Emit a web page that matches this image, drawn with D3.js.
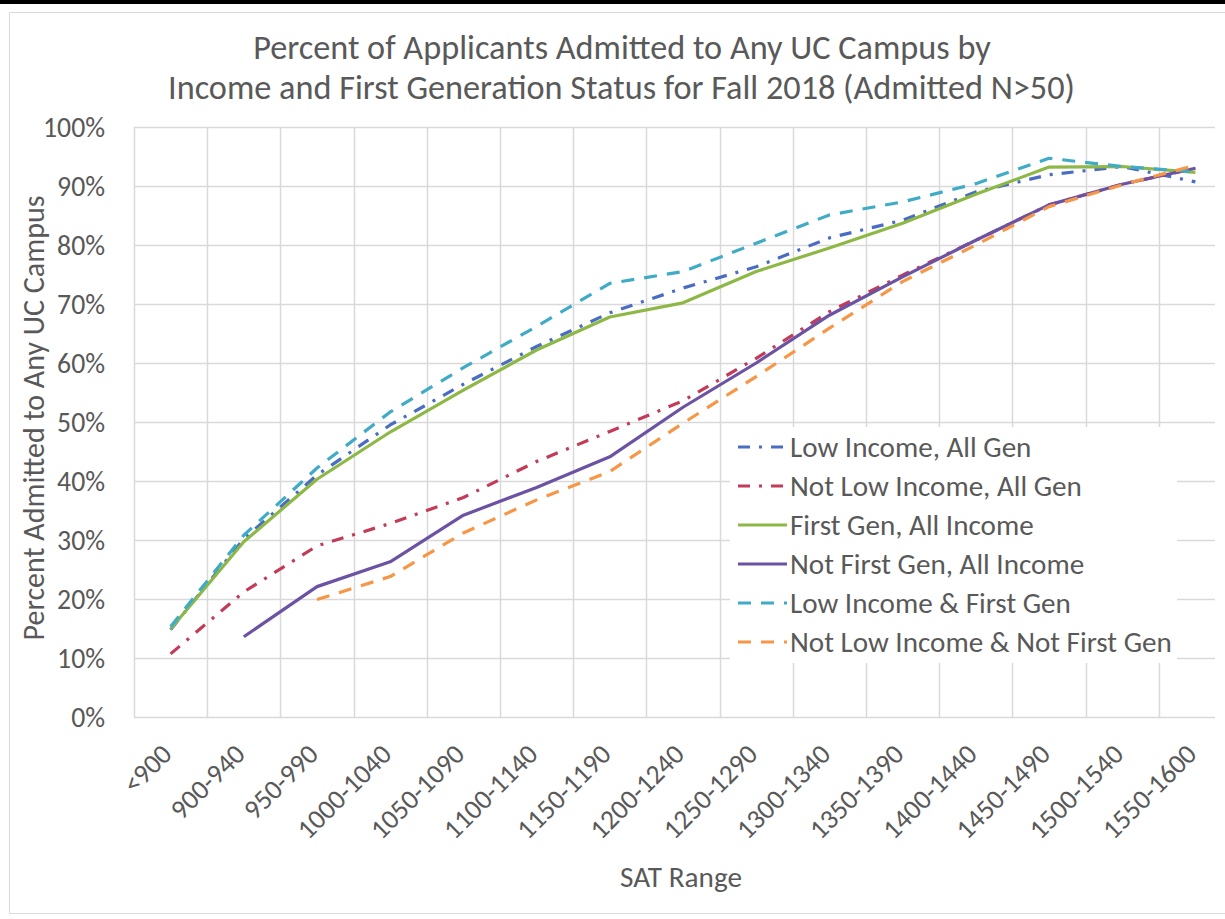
<!DOCTYPE html>
<html>
<head>
<meta charset="utf-8">
<script src="https://cdn.jsdelivr.net/npm/d3@7"></script>
<style>
  html, body { margin: 0; padding: 0; background: #fff; }
  svg { display: block; }
  text { font-family: Carlito, Calibri, Lato, sans-serif; fill: #595959; }
</style>
</head>
<body>
<svg id="chart" width="1225" height="919"></svg>
<script>
// ---------- data ----------
const categories = ["<900", "900-940", "950-990", "1000-1040", "1050-1090", "1100-1140",
  "1150-1190", "1200-1240", "1250-1290", "1300-1340", "1350-1390", "1400-1440",
  "1450-1490", "1500-1540", "1550-1600"];

const yTicks = [0, 10, 20, 30, 40, 50, 60, 70, 80, 90, 100];

const seriesNames = ["Low Income, All Gen", "Not Low Income, All Gen", "First Gen, All Income",
  "Not First Gen, All Income", "Low Income & First Gen", "Not Low Income & Not First Gen"];

const lowIncomeAllGen      = [14.8, 30.2, 41.0, 49.5, 56.4, 62.8, 68.5, 72.7, 76.3, 81.2, 84.2, 89.0, 91.9, 93.3, 90.7];
const notLowIncomeAllGen   = [10.7, 21.2, 29.0, 32.8, 37.2, 43.3, 48.4, 53.6, 60.8, 68.7, 74.9, 80.8, 86.8, 90.3, 93.0];
const firstGenAllIncome    = [14.9, 29.7, 40.3, 48.3, 55.4, 62.2, 67.8, 70.2, 75.5, 79.5, 83.7, 88.6, 93.2, 93.3, 92.3];
const notFirstGenAllIncome = [null, 13.6, 22.1, 26.3, 34.2, 38.9, 44.1, 52.5, 60.0, 68.1, 74.6, 80.8, 86.8, 90.3, 93.0];
const lowIncomeFirstGen    = [15.3, 30.8, 42.2, 51.7, 59.2, 66.2, 73.5, 75.5, 80.3, 85.1, 87.3, 90.4, 94.7, 93.3, 92.4];
const notLowNotFirstGen    = [null, null, 19.9, 23.8, 31.2, 36.8, 41.6, 49.8, 57.7, 65.9, 73.8, 80.0, 86.5, 90.2, 93.5];

const seriesValues = [lowIncomeAllGen, notLowIncomeAllGen, firstGenAllIncome,
  notFirstGenAllIncome, lowIncomeFirstGen, notLowNotFirstGen];

// ---------- styles ----------
const colors = ["#4A6CC2", "#C23B58", "#8DB846", "#6B52A3", "#3FABC6", "#F79646"];
const dashes = ["12,9,3,9", "12,9,3,9", null, null, "13,10", "13,10"];

// ---------- layout ----------
const svg = d3.select("#chart");
const plot = { left: 134, top: 127, bottom: 717, clipRight: 1215 };
const step = 73.2;

const x = d3.scaleBand().domain(categories)
  .range([plot.left, plot.left + step * categories.length]).padding(0);
const y = d3.scaleLinear().domain([0, 100]).range([plot.bottom, plot.top]);

// top black bar + chart border
svg.append("rect").attr("x", 0).attr("y", 0).attr("width", 1225).attr("height", 4).attr("fill", "#000");
svg.append("path")
  .attr("d", "M1225,12.5 H9.5 V913.5 H1225")
  .attr("fill", "none").attr("stroke", "#D9D9D9").attr("stroke-width", 1);

// gridlines
const grid = svg.append("g");
grid.selectAll("line.h").data(yTicks).join("line")
  .attr("x1", plot.left).attr("x2", plot.clipRight)
  .attr("y1", d => Math.round(y(d)) + 0.5).attr("y2", d => Math.round(y(d)) + 0.5)
  .attr("stroke", "#D9D9D9").attr("stroke-width", 1.5);
grid.selectAll("line.v").data(categories).join("line")
  .attr("x1", d => Math.round(x(d)) + 0.5).attr("x2", d => Math.round(x(d)) + 0.5)
  .attr("y1", plot.top).attr("y2", plot.bottom)
  .attr("stroke", "#D9D9D9").attr("stroke-width", 1.5);

// text fitting helper
function fitSize(textSel, target) {
  const node = textSel.node();
  textSel.attr("font-size", 20);
  const w = node.getComputedTextLength();
  const fs = 20 * target / w;
  textSel.attr("font-size", fs);
  return fs;
}

// y tick labels
const yLab = svg.append("g");
const probe = yLab.append("text").text("100%");
const yFs = fitSize(probe, 62);
probe.remove();
yLab.selectAll("text").data(yTicks).join("text")
  .attr("x", 105).attr("y", d => y(d)).attr("dy", "0.35em")
  .attr("text-anchor", "end").attr("font-size", yFs)
  .text(d => d + "%");

// x tick labels
const xLab = svg.append("g");
const probeX = xLab.append("text").text("1000-1040");
const xFs = fitSize(probeX, 120);
probeX.remove();
xLab.selectAll("text").data(categories).join("text")
  .attr("transform", d => `translate(${x(d) + x.bandwidth() / 2 - 4},${749}) rotate(-45)`)
  .attr("text-anchor", "end").attr("dy", "0.35em").attr("font-size", xFs)
  .text(d => d);

// axis titles
const xt = svg.append("text").attr("x", 681).attr("y", 877).attr("dy", "0.35em")
  .attr("text-anchor", "middle").text("SAT Range");
fitSize(xt, 122);
const yt = svg.append("text").attr("transform", "translate(33,418) rotate(-90)")
  .attr("dy", "0.35em").attr("text-anchor", "middle").text("Percent Admitted to Any UC Campus");
fitSize(yt, 445);

// title
const t1 = svg.append("text").attr("x", 622).attr("y", 59).attr("text-anchor", "middle")
  .text("Percent of Applicants Admitted to Any UC Campus by");
fitSize(t1, 738);
const t2 = svg.append("text").attr("x", 621.5).attr("y", 99).attr("text-anchor", "middle")
  .text("Income and First Generation Status for Fall 2018 (Admitted N>50)");
fitSize(t2, 907);

// lines
const lineGen = d3.line()
  .defined(d => d.v !== null)
  .x(d => x(d.c) + x.bandwidth() / 2)
  .y(d => y(d.v));

const lines = svg.append("g");
seriesValues.forEach((vals, i) => {
  const pts = categories.map((c, j) => ({ c: c, v: vals[j] }));
  lines.append("path")
    .datum(pts)
    .attr("d", lineGen)
    .attr("fill", "none")
    .attr("stroke", colors[i])
    .attr("stroke-width", 3.2)
    .attr("stroke-linejoin", "round")
    .attr("stroke-dasharray", dashes[i]);
});

// legend
const legend = svg.append("g");
legend.append("rect").attr("x", 730).attr("y", 427).attr("width", 447).attr("height", 236).attr("fill", "#fff");
const rowY = d3.scaleLinear().domain([0, 5]).range([447, 642]);
const lgProbe = legend.append("text").text(seriesNames[5]);
const lgFs = fitSize(lgProbe, 382);
lgProbe.remove();
seriesNames.forEach((name, i) => {
  const yy = rowY(i);
  legend.append("line")
    .attr("x1", 738).attr("x2", 787).attr("y1", yy).attr("y2", yy)
    .attr("stroke", colors[i]).attr("stroke-width", 3.2)
    .attr("stroke-dasharray", dashes[i]);
  legend.append("text").attr("x", 790).attr("y", yy).attr("dy", "0.35em")
    .attr("font-size", lgFs).text(name);
});
</script>
</body>
</html>
